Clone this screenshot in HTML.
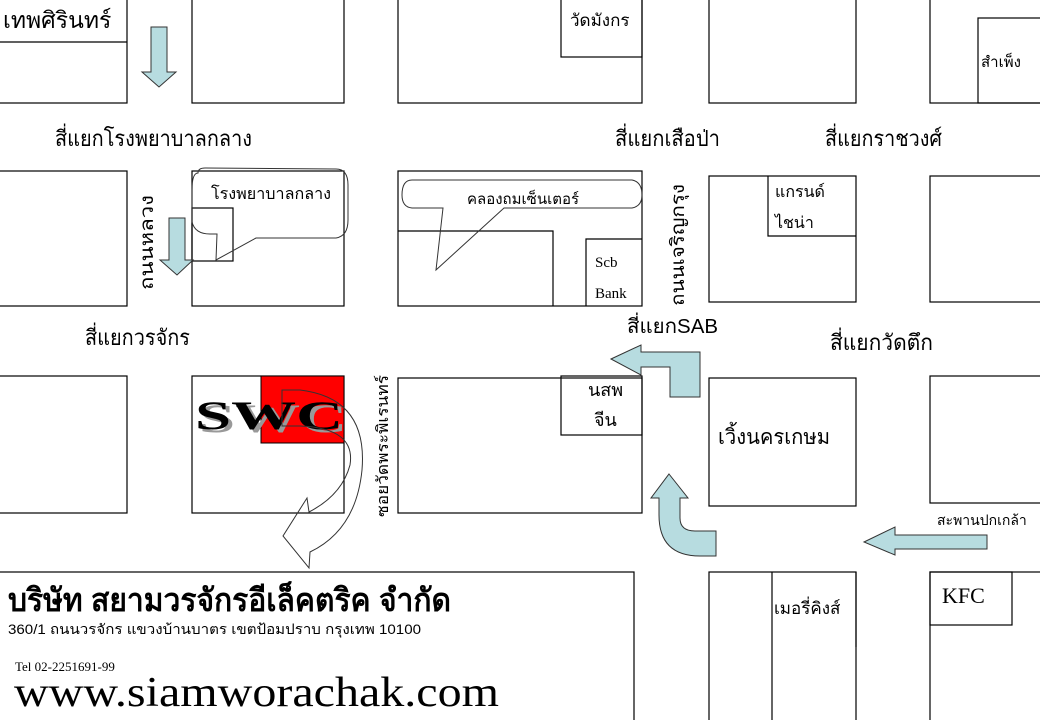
<!DOCTYPE html>
<html><head><meta charset="utf-8"><style>
html,body{margin:0;padding:0;background:#fff;}
svg{display:block;}
text{font-family:"Liberation Serif","DejaVu Sans",serif;fill:#000;}
.t{font-family:"Liberation Sans","DejaVu Sans",sans-serif;}
</style></head><body>
<svg width="1040" height="720" viewBox="0 0 1040 720" xmlns="http://www.w3.org/2000/svg">
<g fill="none" stroke="#000" stroke-width="1.2">
<rect x="-2" y="-2" width="129" height="105"/>
<line x1="0" y1="42" x2="127" y2="42"/>
<rect x="192" y="-2" width="152" height="105"/>
<rect x="398" y="-2" width="244" height="105"/>
<rect x="561" y="-2" width="81" height="59"/>
<rect x="709" y="-2" width="147" height="105"/>
<rect x="930" y="-2" width="112" height="105"/>
<rect x="978" y="18" width="64" height="85"/>
<rect x="-2" y="171" width="129" height="135"/>
<rect x="192" y="171" width="152" height="135"/>
<rect x="192" y="208" width="41" height="53"/>
<rect x="398" y="171" width="244" height="135"/>
<polyline points="398,231 553,231 553,306"/>
<polyline points="586,306 586,239 642,239"/>
<rect x="709" y="176" width="147" height="126"/>
<polyline points="768,176 768,236 856,236"/>
<rect x="930" y="176" width="112" height="126"/>
<rect x="-2" y="376" width="129" height="137"/>
<rect x="192" y="376" width="152" height="137"/>
<rect x="398" y="378" width="244" height="135"/>
<rect x="561" y="376" width="81" height="59"/>
<rect x="709" y="378" width="147" height="128"/>
<rect x="930" y="376" width="112" height="127"/>
<rect x="-2" y="572" width="636" height="150"/>
<rect x="709" y="572" width="147" height="150"/>
<line x1="772" y1="572" x2="772" y2="720"/>
<line x1="856" y1="572" x2="856" y2="647"/>
<rect x="930" y="572" width="112" height="150"/>
<rect x="930" y="572" width="82" height="53"/>
</g>
<rect x="261" y="376" width="83" height="67" fill="#f00" stroke="#000"/>
<text x="199" y="432" font-size="40" font-weight="bold" textLength="148" lengthAdjust="spacingAndGlyphs" style="fill:#999">SWC</text>
<text x="195" y="429" font-size="40" font-weight="bold" textLength="148" lengthAdjust="spacingAndGlyphs">SWC</text>
<path d="M198,173 Q192,173 192,190 L192,222 Q195,234 210,234 L217,234 L216,260 L256,238 L336,238 Q348,236 348,220 L348,185 Q348,169 336,169 L205,168 Q198,168 198,173 Z" fill="none" stroke="#333" stroke-width="1"/>
<path d="M412,180 Q402,180 402,195 Q402,207 412,208 L443,208 L436,270 L504,208 L632,208 Q642,206 642,195 Q642,182 632,180 Z" fill="none" stroke="#333" stroke-width="1"/>
<g fill="#b7dce0" stroke="#333" stroke-width="1">
<polygon points="151,27 167,27 167,72 176,72 159,87 142,72 151,72"/>
<polygon points="169,218 185,218 185,260 193,260 177,275 160,260 169,260"/>
<polygon points="611,359 641,345 641,352 700,352 700,397 670,397 670,367 641,367 641,375"/>
<path d="M669,474 L688,498 L680,498 L680,518 Q680,531 695,531 L716,531 L716,556 L700,556 Q659,556 659,515 L659,498 L651,498 Z"/>
<polygon points="864,542 895,527 895,535 987,535 987,549 895,549 895,555"/>
</g>
<path d="M282,390 L300,390 Q368,398 362,470 Q356,530 310,552 L309,568 L283,536 L307,498 L309,512 Q342,495 350,465 Q356,428 300,426 L282,426 Z" fill="none" stroke="#333" stroke-width="1"/>
<text class="t" x="3" y="28" font-size="23">เทพศิรินทร์</text>
<text class="t" x="570" y="26" font-size="17">วัดมังกร</text>
<text class="t" x="981" y="67" font-size="15">สำเพ็ง</text>
<text class="t" x="55" y="146" font-size="22" textLength="197" lengthAdjust="spacingAndGlyphs">สี่แยกโรงพยาบาลกลาง</text>
<text class="t" x="615" y="146" font-size="22" textLength="105" lengthAdjust="spacingAndGlyphs">สี่แยกเสือป่า</text>
<text class="t" x="825" y="146" font-size="22" textLength="117" lengthAdjust="spacingAndGlyphs">สี่แยกราชวงศ์</text>
<text class="t" x="211" y="199" font-size="16" textLength="120" lengthAdjust="spacingAndGlyphs">โรงพยาบาลกลาง</text>
<text class="t" x="467" y="204" font-size="15">คลองถมเซ็นเตอร์</text>
<text x="595" y="267" font-size="15">Scb</text>
<text x="595" y="298" font-size="15">Bank</text>
<text class="t" x="775" y="197" font-size="16">แกรนด์</text>
<text class="t" x="775" y="228" font-size="16">ไชน่า</text>
<text class="t" font-size="19" transform="translate(153,290) rotate(-90)" textLength="95" lengthAdjust="spacingAndGlyphs">ถนนหลวง</text>
<text class="t" font-size="19" transform="translate(684,306) rotate(-90)" textLength="122" lengthAdjust="spacingAndGlyphs">ถนนเจริญกรุง</text>
<text class="t" font-size="16" transform="translate(388,517) rotate(-90)" textLength="142" lengthAdjust="spacingAndGlyphs">ซอยวัดพระพิเรนทร์</text>
<text class="t" x="85" y="345" font-size="22" textLength="105" lengthAdjust="spacingAndGlyphs">สี่แยกวรจักร</text>
<text class="t" x="627" y="333" font-size="20" textLength="91" lengthAdjust="spacingAndGlyphs">สี่แยกSAB</text>
<text class="t" x="830" y="350" font-size="22" textLength="103" lengthAdjust="spacingAndGlyphs">สี่แยกวัดตึก</text>
<text class="t" x="588" y="396" font-size="18">นสพ</text>
<text class="t" x="594" y="426" font-size="18">จีน</text>
<text class="t" x="718" y="444" font-size="21" textLength="112" lengthAdjust="spacingAndGlyphs">เวิ้งนครเกษม</text>
<text class="t" x="937" y="525" font-size="14">สะพานปกเกล้า</text>
<text class="t" x="774" y="614" font-size="17">เมอรี่คิงส์</text>
<text x="942" y="603" font-size="22">KFC</text>
<text class="t" x="8" y="611" font-size="32" font-weight="bold" textLength="443" lengthAdjust="spacingAndGlyphs">บริษัท สยามวรจักรอีเล็คตริค จำกัด</text>
<text class="t" x="8" y="634" font-size="14" textLength="413" lengthAdjust="spacingAndGlyphs">360/1 ถนนวรจักร แขวงบ้านบาตร เขตป้อมปราบ กรุงเทพ 10100</text>
<text x="15" y="671" font-size="13">Tel 02-2251691-99</text>
<text x="14" y="706" font-size="42" textLength="485" lengthAdjust="spacingAndGlyphs">www.siamworachak.com</text>
</svg>
</body></html>
